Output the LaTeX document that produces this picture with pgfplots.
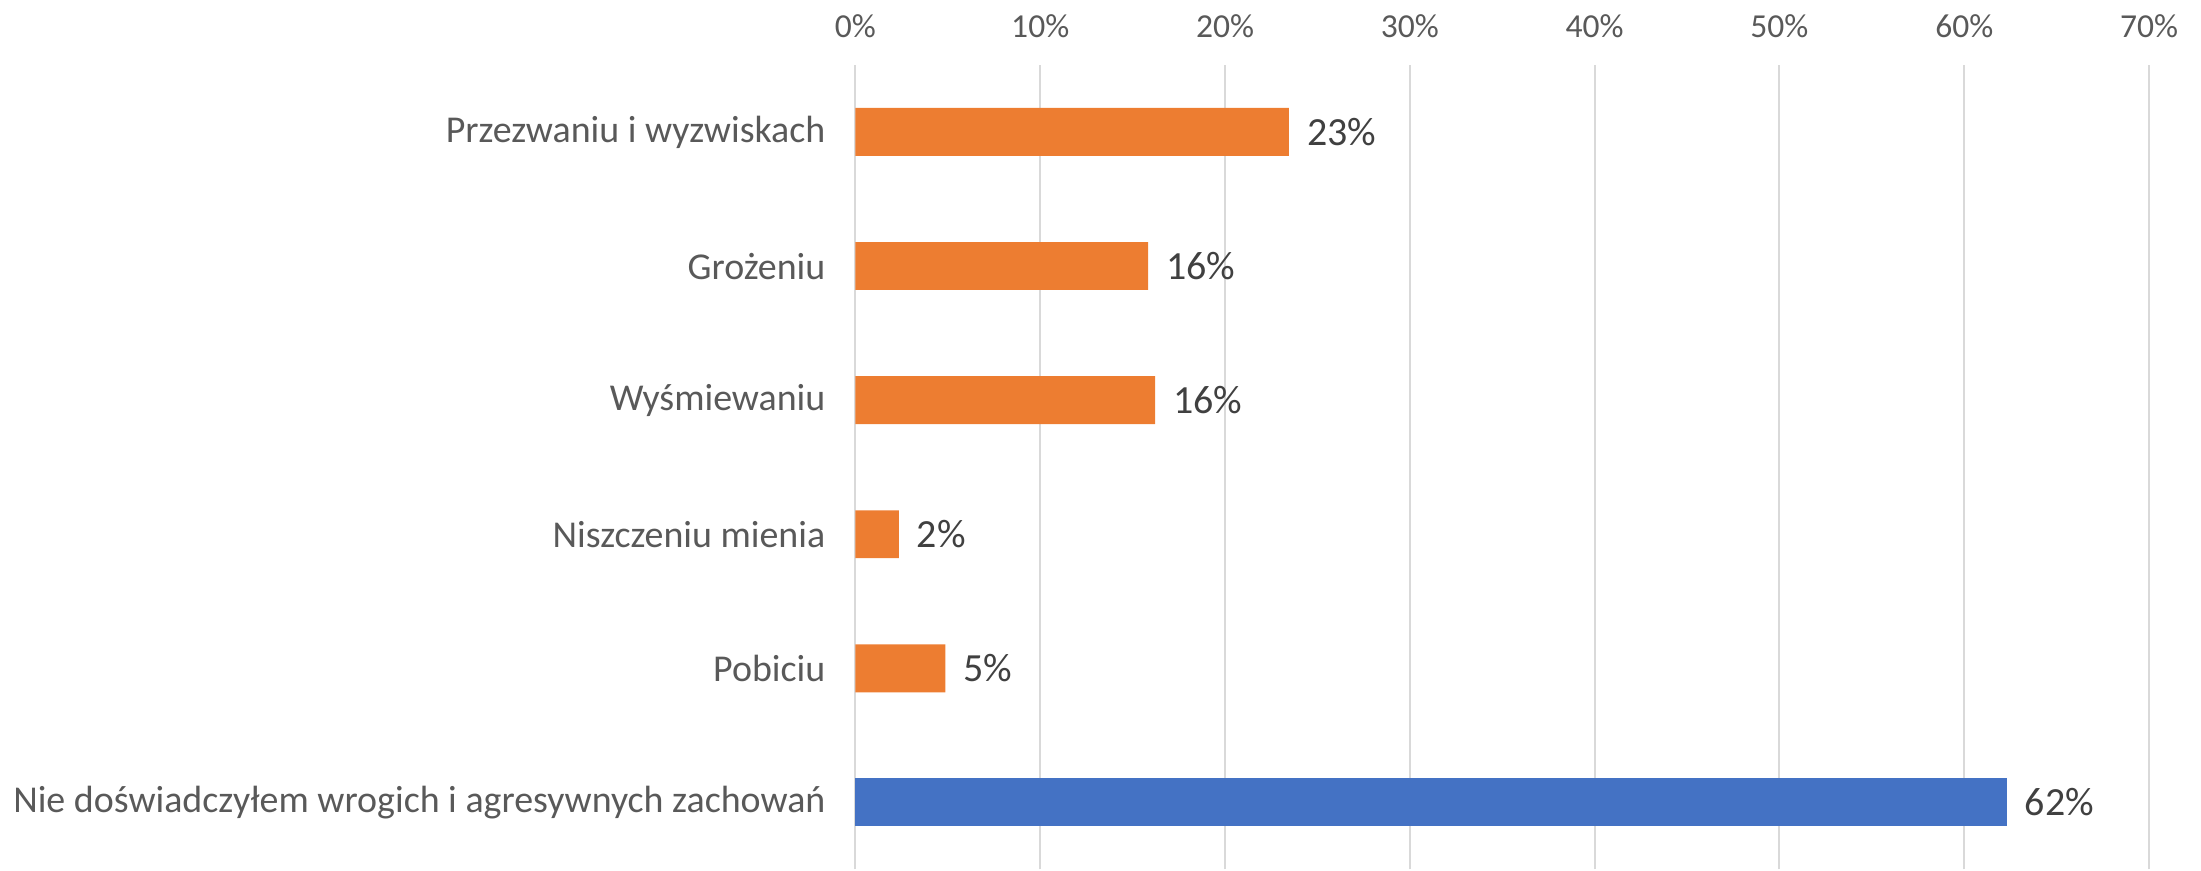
\documentclass[border=0pt]{standalone}
\usepackage{fontspec}
\setmainfont{Carlito}
\usepackage{pgfplots}
\pgfplotsset{compat=1.18}
\definecolor{barorange}{RGB}{237,125,49}
\definecolor{barblue}{RGB}{68,114,196}
\definecolor{gridgray}{RGB}{217,217,217}
\definecolor{labgray}{RGB}{89,89,89}
\definecolor{datgray}{RGB}{64,64,64}

\begin{document}
\begin{tikzpicture}
\begin{axis}[
    xbar,
    scale only axis,
    width=324pt,
    height=201.5pt,
    at={(0,0)},
    anchor=south west,
    bar width=12pt,
    xmin=0, xmax=70,
    ymin=-0.5, ymax=5.5,
    xtick={0,10,...,70},
    xticklabel pos=top,
    xticklabel={\pgfmathprintnumber{\tick}\%},
    /pgf/number format/assume math mode=true,
    xticklabel style={font=\fontsize{8.4}{10}\selectfont, text=labgray, yshift=3.3pt},
    ytick={0,1,2,3,4,5},
    yticklabels={
        Nie doświadczyłem wrogich i agresywnych zachowań,
        Pobiciu,
        Niszczeniu mienia,
        Wyśmiewaniu,
        Grożeniu,
        Przezwaniu i wyzwiskach
    },
    yticklabel style={font=\fontsize{9.5}{11}\selectfont, text=labgray, xshift=-4pt},
    major tick length=0pt,
    axis line style={draw=none},
    xmajorgrids,
    grid style={draw=gridgray, line width=0.5pt},
    nodes near coords={\pgfmathprintnumber[fixed,precision=0]{\pgfplotspointmeta}\%},
    point meta=x,
    every node near coord/.append style={
        font=\fontsize{10}{12}\selectfont, text=datgray, anchor=west, xshift=1pt},
    clip=false,
]
\addplot[fill=barorange, draw=none, bar shift=0pt] coordinates {
    (23.46,5) (15.84,4) (16.22,3) (2.35,2) (4.87,1)
};
\addplot[fill=barblue, draw=none, bar shift=0pt] coordinates {
    (62.3,0)
};
\end{axis}
\path[use as bounding box] (-213.25pt,0pt) rectangle (337pt,217.75pt);
\end{tikzpicture}
\end{document}
